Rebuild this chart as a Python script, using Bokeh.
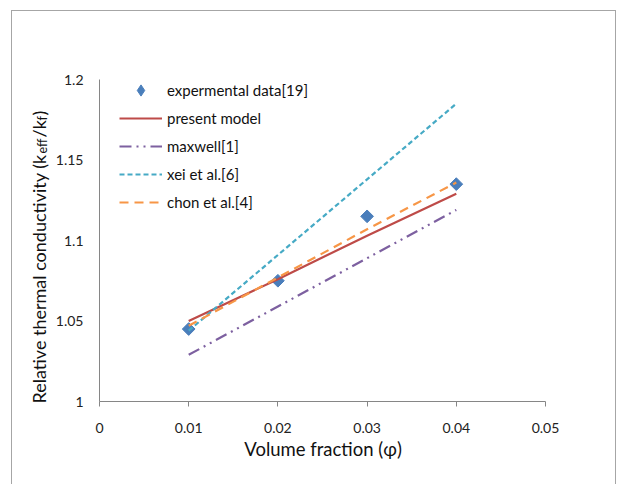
import numpy as np
from bokeh.plotting import figure
from bokeh.models import Label, Legend, LegendItem, FixedTicker, Range1d
from bokeh.embed import file_html
from bokeh.resources import INLINE

# ---- data ----
phi = [0.01, 0.02, 0.03, 0.04]
experimental = [1.045, 1.075, 1.115, 1.135]
present_model = [1.050, 1.076, 1.103, 1.129]
maxwell = [1.029, 1.059, 1.089, 1.119]
xei = [1.044, 1.091, 1.138, 1.185]
chon = [1.047, 1.077, 1.107, 1.136]
x_ticks = [0, 0.01, 0.02, 0.03, 0.04, 0.05]
y_ticks = [1, 1.05, 1.1, 1.15, 1.2]
x_tick_labels = {0: "0", 0.01: "0.01", 0.02: "0.02", 0.03: "0.03", 0.04: "0.04", 0.05: "0.05"}
y_tick_labels = {1: "1", 1.05: "1.05", 1.1: "1.1", 1.15: "1.15", 1.2: "1.2"}
series_labels = ["expermental data[19]", "present model", "maxwell[1]", "xei et al.[6]", "chon et al.[4]"]

FONT = "Lato"
W, H = 605, 474

p = figure(width=W, height=H, output_backend="svg", toolbar_location=None,
           x_range=Range1d(0, 0.05), y_range=Range1d(1, 1.2),
           min_border_left=87, min_border_right=72, min_border_top=68, min_border_bottom=84)
p.styles = {"margin-left": "11px", "margin-top": "10px",
            "border-top": "1px solid #a6a6a6", "border-left": "1px solid #a6a6a6",
            "border-right": "1px solid #a6a6a6"}
p.outline_line_color = None
p.grid.visible = False
p.background_fill_color = "white"
p.border_fill_color = "white"

# axes
p.xaxis.ticker = FixedTicker(ticks=x_ticks)
p.yaxis.ticker = FixedTicker(ticks=y_ticks)
p.xaxis.major_label_overrides = x_tick_labels
p.yaxis.major_label_overrides = y_tick_labels
for ax in (p.xaxis[0], p.yaxis[0]):
    ax.axis_line_color = "#868686"
    ax.major_tick_line_color = "#868686"
    ax.minor_tick_line_color = None
    ax.major_label_text_font = FONT
    ax.major_label_text_font_size = "14px"
    ax.major_label_text_color = "#222222"
p.xaxis.major_tick_out = 5
p.xaxis.major_tick_in = 0
p.yaxis.major_tick_out = 0
p.yaxis.major_tick_in = 0
p.xaxis.major_label_standoff = 16
p.yaxis.major_label_standoff = 16
p.xaxis.axis_label = "Volume fraction (\u03c6)"
p.xaxis.axis_label_text_font = FONT
p.xaxis.axis_label_text_font_style = "normal"
p.xaxis.axis_label_text_font_size = "18.5px"
p.xaxis.axis_label_standoff = 2
p.xaxis.axis_label_text_color = "#111111"

# series
r_exp = p.scatter(phi, experimental, marker="square", size=9, angle=np.pi / 4,
                  fill_color="#4a7ebb", line_color="#4a7ebb")
r_exp_leg = p.scatter(phi, experimental, marker="diamond", size=8,
                      fill_color="#4a7ebb", line_color="#4a7ebb")
r_pm = p.line(phi, present_model, line_color="#be4b48", line_width=2.2)
r_mx = p.line(phi, maxwell, line_color="#7d60a0", line_width=2.2, line_dash="12 5 2 5 2 5")
r_xe = p.line(phi, xei, line_color="#46aac5", line_width=2.2, line_dash="5 3")
r_ch = p.line(phi, chon, line_color="#f79646", line_width=2.2, line_dash="9 6")

legend = Legend(items=[
    LegendItem(label=series_labels[0], renderers=[r_exp_leg]),
    LegendItem(label=series_labels[1], renderers=[r_pm]),
    LegendItem(label=series_labels[2], renderers=[r_mx]),
    LegendItem(label=series_labels[3], renderers=[r_xe]),
    LegendItem(label=series_labels[4], renderers=[r_ch]),
], location=(20, 185))
legend.border_line_color = None
legend.background_fill_alpha = 0
legend.padding = 0
legend.margin = 0
legend.glyph_width = 43
legend.glyph_height = 28
legend.spacing = 0
legend.label_standoff = 5
legend.label_text_font = FONT
legend.label_text_font_size = "15px"
legend.label_text_color = "#111111"
p.add_layout(legend)

# y-axis title with subscripts, built from pieces (canvas units).
# They live in side panels (unclipped); split between left and right so the
# reserved panel widths stay within the borders.
title_pieces = [
    ("Relative thermal conductivity (k", 0, "18px", 0, "left"),
    ("eff", 250, "12.5px", 4, "left"),
    ("/k", 266, "18px", 0, "right"),
    ("f", 283, "12.5px", 4, "right"),
    (")", 288, "18px", 0, "right"),
]
for txt, off, size, dx, side in title_pieces:
    p.add_layout(Label(x=25 + dx, y=391 - off, x_units="canvas", y_units="canvas",
                       text=txt, angle=np.pi / 2, text_align="left", text_baseline="middle",
                       text_font=FONT, text_font_size=size, text_color="#111111"), side)

open("out.html", "w").write(file_html(p, INLINE))
